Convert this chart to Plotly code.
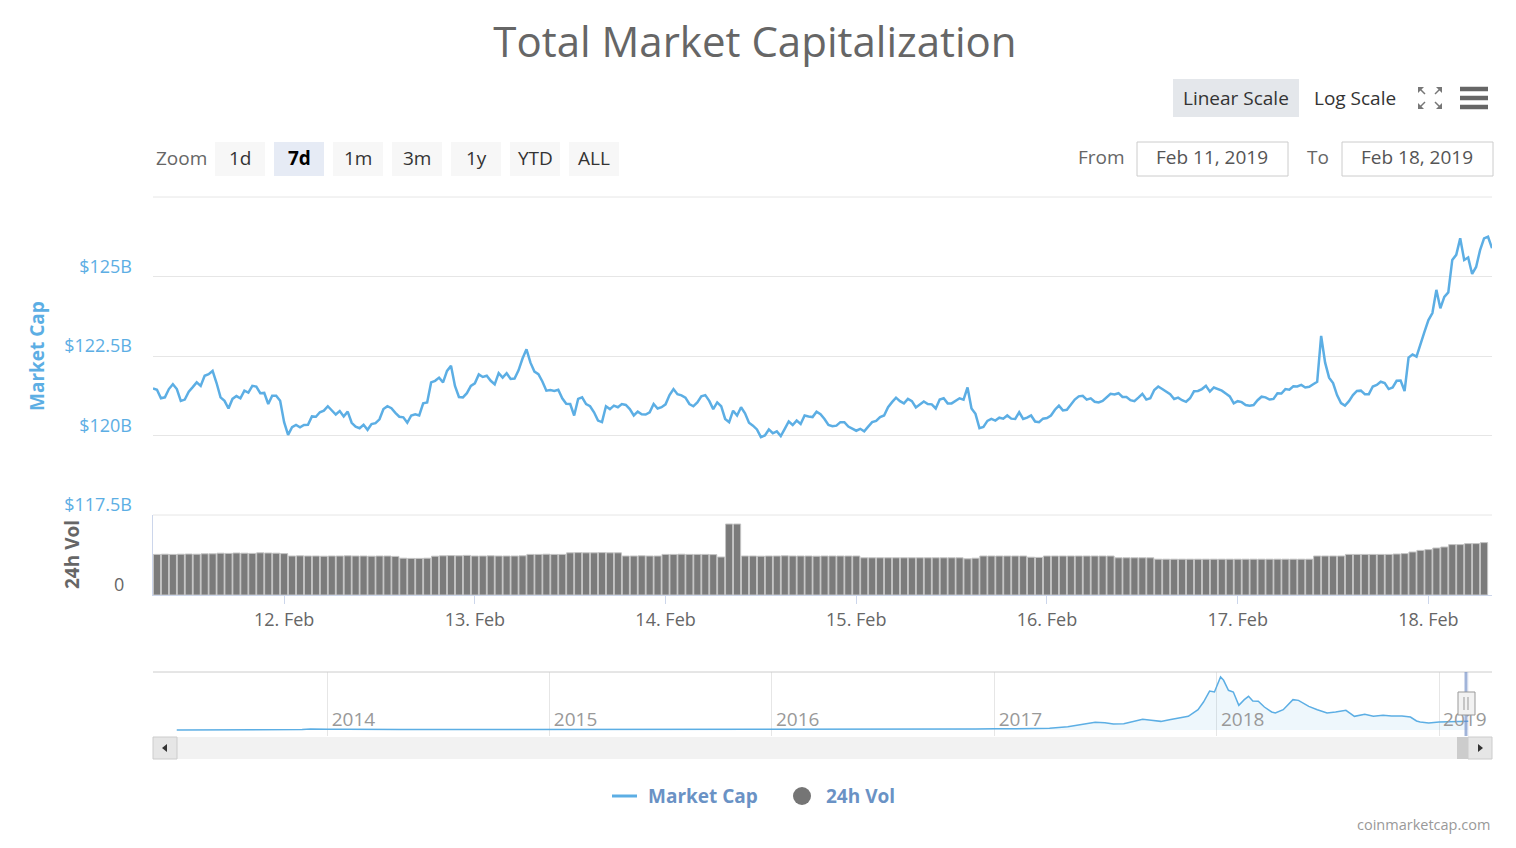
import pandas as pd
import plotly.graph_objects as go

# total market cap, $B, every 30 min from Feb 11 2019 07:30
market_cap = [
    121.48, 121.44, 121.17, 121.20, 121.46, 121.61, 121.46, 121.09, 121.13, 121.38,
    121.52, 121.67, 121.56, 121.88, 121.93, 122.03, 121.65, 121.20, 121.09, 120.85,
    121.15, 121.24, 121.17, 121.41, 121.35, 121.56, 121.54, 121.33, 121.34, 120.99,
    121.25, 121.25, 121.09, 120.42, 120.02, 120.26, 120.33, 120.26, 120.33, 120.34,
    120.60, 120.59, 120.73, 120.78, 120.92, 120.78, 120.66, 120.77, 120.60, 120.75,
    120.40, 120.28, 120.23, 120.34, 120.18, 120.36, 120.39, 120.51, 120.83, 120.92,
    120.86, 120.71, 120.59, 120.57, 120.40, 120.63, 120.67, 120.63, 121.01, 121.04,
    121.67, 121.72, 121.82, 121.67, 122.03, 122.19, 121.56, 121.21, 121.20, 121.33,
    121.56, 121.64, 121.92, 121.84, 121.88, 121.72, 121.61, 121.96, 121.82, 121.96,
    121.78, 121.79, 122.05, 122.42, 122.71, 122.29, 122.01, 121.93, 121.70, 121.41,
    121.43, 121.40, 121.44, 121.17, 121.00, 120.99, 120.63, 121.15, 121.20, 120.99,
    120.92, 120.73, 120.47, 120.42, 120.92, 120.83, 120.94, 120.89, 120.99, 120.96,
    120.83, 120.63, 120.75, 120.67, 120.66, 120.73, 120.99, 120.85, 120.89, 120.98,
    121.27, 121.46, 121.30, 121.26, 121.19, 120.99, 120.92, 121.04, 121.23, 121.27,
    121.09, 120.83, 121.04, 120.92, 120.52, 120.42, 120.78, 120.63, 120.89, 120.70,
    120.40, 120.31, 120.19, 119.95, 120.00, 120.19, 120.07, 120.13, 119.98, 120.21,
    120.44, 120.33, 120.47, 120.36, 120.63, 120.60, 120.58, 120.75, 120.67, 120.52,
    120.33, 120.29, 120.31,
    120.42, 120.42, 120.28, 120.22, 120.15, 120.21, 120.13, 120.28, 120.42, 120.46,
    120.58, 120.63, 120.89, 121.05, 121.19, 121.08, 121.01, 121.15, 121.08, 120.88,
    120.99, 121.07, 120.99, 120.98, 120.85, 121.13, 121.17, 121.01, 121.01, 121.08,
    121.17, 121.13, 121.51, 120.85, 120.68, 120.23, 120.27, 120.46, 120.52, 120.47,
    120.56, 120.53, 120.63, 120.53, 120.52, 120.73, 120.52, 120.56, 120.63, 120.44,
    120.42, 120.53, 120.55, 120.63, 120.81, 120.94, 120.79, 120.81, 120.97, 121.13,
    121.23, 121.25, 121.13, 121.17, 121.06, 121.04, 121.09, 121.19, 121.31, 121.29,
    121.33, 121.21, 121.21, 121.11, 121.08, 121.19, 121.31, 121.13, 121.17, 121.43,
    121.54, 121.46, 121.38, 121.30, 121.15, 121.19, 121.11, 121.06, 121.17, 121.39,
    121.40, 121.46, 121.56, 121.38, 121.51, 121.46, 121.41, 121.32, 121.23, 121.01,
    121.08, 121.05, 120.96, 120.94, 120.96, 121.11, 121.22, 121.20, 121.13, 121.15,
    121.33, 121.32, 121.46, 121.44, 121.55, 121.54, 121.59, 121.51, 121.53, 121.61,
    121.69, 123.13, 122.29, 121.82, 121.65, 121.27, 121.02, 120.94, 121.08, 121.27,
    121.40, 121.41, 121.30, 121.30, 121.54, 121.59, 121.69, 121.65, 121.46, 121.51,
    121.72, 121.73, 121.40, 122.45, 122.55, 122.48, 122.90, 123.26, 123.63, 123.85,
    124.58, 124.00, 124.36, 124.50, 125.52, 125.68, 126.20, 125.52, 125.60, 125.08,
    125.30, 125.83, 126.20, 126.25, 125.89,
]

# 24h volume, $B, hourly from Feb 11 2019 08:00
volume = [
    20.3, 20.4, 20.3, 20.4, 20.5, 20.4, 20.6, 20.6,
    20.9, 20.8, 21.0, 20.9, 20.8, 21.1, 21.0, 20.9, 20.7,
    19.5, 19.6, 19.5, 19.5, 19.4, 19.5, 19.5, 19.6, 19.5, 19.5, 19.4, 19.5, 19.5, 19.3,
    18.4, 18.3, 18.3, 18.4,
    19.4, 19.6, 19.7, 19.6, 19.8,
    19.5, 19.5, 19.6, 19.5, 19.5, 19.5, 19.6,
    20.3, 20.3, 20.4, 20.3, 20.3,
    21.1, 21.2, 21.1, 21.1, 21.2, 21.1, 21.1,
    19.5, 19.5, 19.6, 19.5, 19.5,
    20.3, 20.3, 20.4, 20.3, 20.3, 20.3, 20.2,
    19.0, 35.5, 35.5,
    19.5, 19.5, 19.4, 19.5, 19.5, 19.6, 19.5, 19.5, 19.5, 19.4, 19.5, 19.5,
    19.5, 19.5, 19.5,
    18.6, 18.6, 18.6, 18.6, 18.6, 18.6, 18.6, 18.6, 18.6, 18.6, 18.6, 18.6, 18.6,
    18.1, 18.4,
    19.5, 19.5, 19.5, 19.5, 19.5, 19.5,
    18.9, 18.8,
    19.5, 19.5, 19.5, 19.5, 19.5, 19.5, 19.5, 19.5, 19.5,
    18.6, 18.6, 18.6, 18.6, 18.6,
    17.9, 17.9, 17.9, 17.9, 17.9, 17.9, 17.9, 17.9, 17.9, 17.9,
    17.9, 17.9, 17.9, 17.9, 17.9, 17.9, 17.9, 17.9, 17.9, 17.9,
    19.5, 19.5, 19.5, 19.5,
    20.3, 20.3, 20.3, 20.3, 20.3, 20.3,
    20.5, 20.7, 21.5, 22.3, 22.7, 23.5, 24.0, 25.2, 25.2, 25.7, 25.7, 26.2,
]

# navigator: all-time total market cap, $B
nav_dates = [
    '2013-04-28', '2013-06-01', '2013-07-01', '2013-08-01', '2013-09-01', '2013-10-01',
    '2013-11-01', '2013-11-20', '2013-12-04', '2013-12-20',
    '2014-01-01', '2014-02-01', '2014-03-01', '2014-04-01', '2014-05-01', '2014-06-01',
    '2014-07-01', '2014-08-01', '2014-09-01', '2014-10-01', '2014-11-01', '2014-12-01',
    '2015-01-01', '2015-02-01', '2015-03-01', '2015-04-01', '2015-05-01', '2015-06-01',
    '2015-07-01', '2015-08-01', '2015-09-01', '2015-10-01', '2015-11-01', '2015-12-01',
    '2016-01-01', '2016-02-01', '2016-03-01', '2016-04-01', '2016-05-01', '2016-06-01',
    '2016-07-01', '2016-08-01', '2016-09-01', '2016-10-01', '2016-11-01', '2016-12-01',
    '2017-01-01', '2017-02-01', '2017-03-01', '2017-04-01', '2017-05-01', '2017-05-15',
    '2017-06-01', '2017-06-15', '2017-07-01', '2017-07-15', '2017-08-01', '2017-08-15',
    '2017-09-01', '2017-09-15', '2017-10-01', '2017-10-15', '2017-11-01', '2017-11-15',
    '2017-12-01', '2017-12-10', '2017-12-20', '2017-12-28',
    '2018-01-07', '2018-01-12', '2018-01-20', '2018-01-28', '2018-02-06', '2018-02-15',
    '2018-02-22', '2018-03-01', '2018-03-10', '2018-03-20', '2018-04-01', '2018-04-07',
    '2018-04-20', '2018-05-01', '2018-05-06', '2018-05-15', '2018-06-01', '2018-06-15',
    '2018-07-01', '2018-07-15', '2018-08-01', '2018-08-15', '2018-09-01', '2018-09-15',
    '2018-10-01', '2018-10-15', '2018-11-01', '2018-11-15', '2018-11-25', '2018-12-01',
    '2018-12-15', '2019-01-01', '2019-01-15', '2019-02-01', '2019-02-18',
]
nav_cap = [
    1.5, 1.3, 1.1, 1.2, 1.5, 1.7,
    2.6, 7.5, 15.0, 8.0,
    10.0, 11.0, 7.5, 6.5, 6.0, 8.5,
    8.5, 8.0, 6.5, 5.5, 5.0, 5.5,
    4.5, 3.3, 3.6, 3.5, 3.5, 3.4,
    4.0, 4.3, 3.6, 3.7, 4.8, 6.2,
    7.0, 6.4, 7.6, 7.5, 8.7, 10.3,
    12.0, 10.5, 10.7, 11.0, 12.8, 14.0,
    17.7, 17.3, 21.0, 26, 52, 73,
    99, 120, 115, 94, 99, 135,
    167, 151, 135, 162, 188, 214,
    318, 438, 610, 595,
    830, 778, 621, 595, 386, 475,
    527, 454, 449, 360, 282, 266,
    318, 438, 475, 464, 370, 318,
    266, 282, 308, 214, 245, 214,
    229, 219, 219, 203, 141, 125,
    109, 125, 125, 125, 135,
]

y_ticks = [117.5, 120, 122.5, 125, 127.5]
y_labels = ['$117.5B', '$120B', '$122.5B', '$125B', '']
zoom_buttons = ['1d', '7d', '1m', '3m', '1y', 'YTD', 'ALL']

cap_times = pd.date_range('2019-02-11 07:30', periods=len(market_cap), freq='30min')
vol_times = pd.date_range('2019-02-11 08:00', periods=len(volume), freq='h')

BLUE = '#5caee4'
LEGEND_BLUE = '#6a92c5'
FONT = 'Open Sans, sans-serif'

# plot area in page pixels, used to place the UI bits
L, R, T, B = 153, 1492, 197, 736
def px(x):
    return (x - L) / (R - L)
def py(y):
    return (B - y) / (B - T)

fig = go.Figure()
fig.add_trace(go.Scatter(x=cap_times, y=market_cap, mode='lines', line=dict(color=BLUE, width=2.5),
                         xaxis='x', yaxis='y', showlegend=False, hoverinfo='skip'))
fig.add_trace(go.Bar(x=vol_times, y=volume, marker=dict(color='#7b7b7b', line=dict(color='#c4c4c4', width=1)),
                     xaxis='x', yaxis='y2', showlegend=False, hoverinfo='skip'))
fig.add_trace(go.Scatter(x=nav_dates, y=nav_cap, mode='lines', line=dict(color=BLUE, width=1.5),
                         fill='tozeroy', fillcolor='rgba(92,174,228,0.1)',
                         xaxis='x2', yaxis='y3', showlegend=False, hoverinfo='skip'))

shapes = []
annotations = []

def box(x0, y0, x1, y1, fill, line='rgba(0,0,0,0)', lw=0):
    shapes.append(dict(type='rect', xref='paper', yref='paper', x0=px(x0), x1=px(x1), y0=py(y0), y1=py(y1),
                       fillcolor=fill, line=dict(color=line, width=lw), layer='above'))

def seg(x0, y0, x1, y1, color, width=1, layer='above'):
    shapes.append(dict(type='line', xref='paper', yref='paper', x0=px(x0), x1=px(x1), y0=py(y0), y1=py(y1),
                       line=dict(color=color, width=width), layer=layer))

def label(x, y, text, size=19, color='#333333', xanchor='center', bold=False, angle=0):
    annotations.append(dict(xref='paper', yref='paper', x=px(x), y=py(y), text=text, showarrow=False,
                            xanchor=xanchor, yanchor='middle', textangle=angle,
                            font=dict(family=FONT, size=size, color=color, weight='bold' if bold else 'normal')))

# grid lines at the ends of the market cap axis
seg(153, 197, 1492, 197, '#e6e6e6', 1, 'below')
seg(153, 515, 1492, 515, '#e6e6e6', 1, 'below')

# zoom buttons
label(181, 158, 'Zoom', color='#666666')
for i, b in enumerate(zoom_buttons):
    x0 = 215 + i * 59
    box(x0, 142, x0 + 50, 176, '#e6ebf5' if b == '7d' else '#f7f7f7')
    label(x0 + 25, 158, b, color='#000000' if b == '7d' else '#333333', bold=(b == '7d'))

# scale buttons and icons
box(1173, 79, 1299, 117, '#e4e7eb')
label(1236, 98, 'Linear Scale')
label(1355, 98, 'Log Scale')
for cx, cy, dx, dy in [(1418, 87, 1, 1), (1442, 87, -1, 1), (1418, 109, 1, -1), (1442, 109, -1, -1)]:
    seg(cx + dx * 2, cy + dy * 2, cx + dx * 7, cy + dy * 7, '#777777', 1.5)
    shapes.append(dict(type='path', xref='paper', yref='paper', layer='above',
                       path=f'M {px(cx)} {py(cy)} L {px(cx + dx * 6)} {py(cy)} L {px(cx)} {py(cy + dy * 6)} Z',
                       fillcolor='#777777', line=dict(width=0)))
for yy in (89, 98, 107):
    seg(1460, yy, 1488, yy, '#666666', 4.5)

# date range inputs
label(1101, 157, 'From', color='#666666')
box(1137, 142, 1288, 176, 'white', '#cccccc', 1)
label(1212, 157, 'Feb 11, 2019', color='#555555')
label(1318, 157, 'To', color='#666666')
box(1342, 142, 1493, 176, 'white', '#cccccc', 1)
label(1417, 157, 'Feb 18, 2019', color='#555555')

# axis titles
label(37, 356, 'Market Cap', size=19, color=BLUE, bold=True, angle=-90)
label(72, 555, '24h Vol', size=19, color='#666666', bold=True, angle=-90)

# navigator frame, selection and scrollbar
seg(153, 672, 1492, 672, '#cccccc', 1)
shapes.append(dict(type='rect', xref='x2', yref='y3 domain', x0='2019-02-11', x1='2019-02-18', y0=0, y1=1,
                   fillcolor='rgba(102,133,194,0.3)', line=dict(width=0), layer='above'))
seg(1466, 672, 1466, 736, 'rgba(102,133,194,0.45)', 2)
box(1458, 692, 1475, 715, '#f2f2f2', '#999999', 1)
seg(1464, 697, 1464, 710, '#999999', 1)
seg(1468, 697, 1468, 710, '#999999', 1)
box(153, 737, 1492, 759, '#f2f2f2')
box(1457, 737, 1468, 759, '#cccccc')
box(153, 737, 177, 759, '#e6e6e6', '#cccccc', 1)
box(1468, 737, 1492, 759, '#e6e6e6', '#cccccc', 1)
shapes.append(dict(type='path', xref='paper', yref='paper', layer='above', fillcolor='#333333', line=dict(width=0),
                   path=f'M {px(162)} {py(748)} L {px(167)} {py(744)} L {px(167)} {py(752)} Z'))
shapes.append(dict(type='path', xref='paper', yref='paper', layer='above', fillcolor='#333333', line=dict(width=0),
                   path=f'M {px(1483)} {py(748)} L {px(1478)} {py(744)} L {px(1478)} {py(752)} Z'))

# legend
seg(612, 796, 637, 796, BLUE, 3)
label(646, 796, 'Market Cap', size=19, color=LEGEND_BLUE, xanchor='left', bold=True)
shapes.append(dict(type='circle', xref='paper', yref='paper', layer='above', fillcolor='#757575',
                   line=dict(width=0), x0=px(793), x1=px(811), y0=py(787), y1=py(805)))
label(824, 796, '24h Vol', size=19, color=LEGEND_BLUE, xanchor='left', bold=True)

label(1492, 825, 'coinmarketcap.com', size=14.5, color='#999999', xanchor='right')

fig.update_layout(
    width=1516, height=848,
    margin=dict(l=L, r=1516 - R, t=T, b=848 - B),
    paper_bgcolor='white', plot_bgcolor='white',
    font=dict(family=FONT, color='#666666'),
    title=dict(text='Total Market Capitalization', x=px(755), xref='paper', xanchor='center',
               y=1 - 42 / 848, yref='container', yanchor='middle',
               font=dict(family=FONT, size=42, color='#666666')),
    showlegend=False,
    bargap=0.1,
    hovermode=False,
    xaxis=dict(domain=[0, 1], anchor='y2', type='date', range=['2019-02-11 07:30', '2019-02-18 08:00'],
               tick0='2019-02-12', dtick=86400000, tickformat='%-d. %b', showgrid=False,
               showline=True, linecolor='#ccd6eb', ticks='outside', ticklen=8, tickcolor='#ccd6eb',
               tickfont=dict(size=18, color='#666666'), zeroline=False),
    yaxis=dict(domain=[py(515), 1], range=[117.5, 127.5], tickvals=y_ticks, ticktext=y_labels,
               gridcolor='#e6e6e6', zeroline=False, showline=False, ticks='',
               tickfont=dict(size=18, color=BLUE), ticklabelshift=-10, ticklabelstandoff=20),
    yaxis2=dict(domain=[py(595), py(515)], range=[0, 40], tickvals=[0], ticktext=['0'], showgrid=False,
                zeroline=False, showline=True, linecolor='#ccd6eb', ticks='',
                tickfont=dict(size=18, color='#666666'), ticklabelshift=-10, ticklabelstandoff=24),
    xaxis2=dict(domain=[0, 1], anchor='y3', type='date', range=['2013-03-20', '2019-03-29'],
                tick0='2013-01-01', dtick='M12', tickformat='%Y', showgrid=True, gridcolor='#e6e6e6',
                ticks='', ticklabelposition='inside right', ticklabelshift=4,
                tickfont=dict(size=19, color='#999999'), showline=False, zeroline=False),
    yaxis3=dict(domain=[0, py(672)], range=[-94, 908], visible=False),
    shapes=shapes,
    annotations=annotations,
)

fig.write_html('out.html', config={'displayModeBar': False},
               post_script="document.body.style.margin = '0';")
